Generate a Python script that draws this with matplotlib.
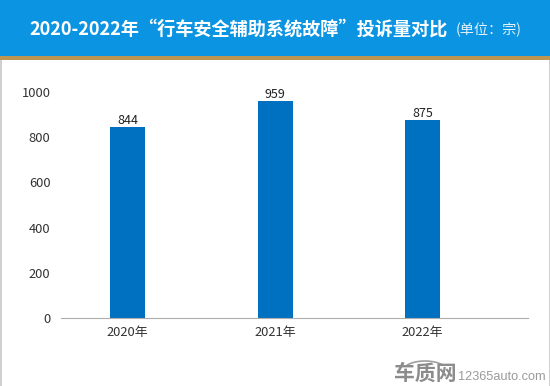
import matplotlib
matplotlib.use('Agg')
import matplotlib.pyplot as plt
from matplotlib.patches import Rectangle, Arc

plt.rcParams['font.family'] = ['Noto Sans CJK SC', 'DejaVu Sans']

years = ['2020年', '2021年', '2022年']
complaints = [844, 959, 875]
y_ticks = [0, 200, 400, 600, 800, 1000]

W, H = 550, 386
fig = plt.figure(figsize=(W / 100, H / 100), dpi=100, facecolor='white')

# header band and the gold line under it
fig.add_artist(Rectangle((0, 1 - 56 / H), 1, 56 / H, transform=fig.transFigure, color='#0A94E2', lw=0))
fig.add_artist(Rectangle((0, 1 - 59.5 / H), 1, 3.5 / H, transform=fig.transFigure, color='#BE9550', lw=0))
# thin grey frame at the sides
fig.add_artist(Rectangle((0, 0), 1.5 / W, 1 - 59.5 / H, transform=fig.transFigure, color='#D0D0D0', lw=0))
fig.add_artist(Rectangle((1 - 1.5 / W, 0), 1.5 / W, 1 - 59.5 / H, transform=fig.transFigure, color='#D0D0D0', lw=0))

fig.text(29 / W, 1 - 29.5 / H, '2020-2022年“行车安全辅助系统故障”投诉量对比', color='white',
         fontsize=13.1, fontweight='bold', va='center', ha='left')
fig.text(456 / W, 1 - 30 / H, '(单位：宗)', color='#E4F2FB', fontsize=10.2, va='center', ha='left')

ax = fig.add_axes([61 / W, 1 - 318 / H, 467 / W, 226 / H])
ax.bar(range(3), complaints, width=0.237, color='#0070C0')
for i, v in enumerate(complaints):
    ax.annotate(str(v), (i, v), xytext=(0, 0.5), textcoords='offset points',
                ha='center', va='bottom', fontsize=9, color='#222222')

ax.set_xlim(-0.451, 2.715)
ax.set_ylim(0, 1000)
ax.set_xticks(range(3), years)
ax.set_yticks(y_ticks)
ax.tick_params(length=0, labelsize=9.3, labelcolor='#333333')
ax.tick_params(axis='x', pad=6)
ax.tick_params(axis='y', pad=7.5)
for s in ['top', 'left', 'right']:
    ax.spines[s].set_visible(False)
ax.spines['bottom'].set_color('#ADADAD')

# watermark
fig.text(394 / W, 1 - 373 / H, '车质网', color='#8C8C8C', fontsize=15, fontweight='bold', va='center', ha='left')
fig.text(458 / W, 1 - 377 / H, '12365auto.com', color='#9A9A9A', fontsize=9.2, va='center', ha='left',
         family=['Liberation Sans'])
car_ax = fig.add_axes([0, 0, 1, 1], facecolor='none')
car_ax.set_xlim(0, W)
car_ax.set_ylim(H, 0)
car_ax.axis('off')
car_ax.add_patch(Arc((425, 372), 46, 22, theta1=200, theta2=340, color='#A0A0A0', lw=1.2))

fig.savefig('out.png', dpi=100)
